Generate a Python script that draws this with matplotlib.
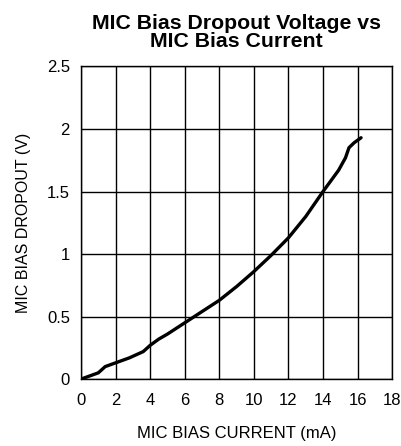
import numpy as np
import matplotlib
matplotlib.use('Agg')
import matplotlib.pyplot as plt

plt.rcParams['font.family'] = ['Liberation Sans', 'DejaVu Sans']

# MIC bias current (mA) vs dropout (V)
current = [0.0, 1.0, 1.4, 2.0, 2.8, 3.6, 4.0, 4.5, 5.0, 6.0, 7.0, 8.0, 9.0,
           10.0, 11.0, 12.0, 13.0, 14.0, 14.9, 15.3, 15.5, 15.8, 16.2]
dropout = [0.0, 0.05, 0.10, 0.13, 0.17, 0.22, 0.27, 0.32, 0.36, 0.45, 0.54,
           0.63, 0.74, 0.86, 0.99, 1.13, 1.30, 1.50, 1.67, 1.77, 1.85, 1.89,
           1.93]

xticks = np.arange(0, 19, 2)
yticks = [0, 0.5, 1, 1.5, 2, 2.5]
ytick_labels = ['0', '0.5', '1', '1.5', '2', '2.5']

fig = plt.figure(figsize=(4.01, 4.46), dpi=100)
ax = fig.add_axes([0.202, 0.150, 0.776, 0.701])

ax.plot(current, dropout, color='black', lw=2.4, solid_capstyle='round',
        solid_joinstyle='round')

ax.set_xlim(0, 18)
ax.set_ylim(0, 2.5)
ax.set_xticks(xticks)
ax.set_yticks(yticks)
ax.set_yticklabels(ytick_labels)
ax.grid(True, color='black', lw=1)
ax.tick_params(length=0, labelsize=12)
ax.tick_params(axis='x', pad=10)
ax.tick_params(axis='y', pad=8)
for s in ax.spines.values():
    s.set_linewidth(1)

ax.set_xlabel('MIC BIAS CURRENT (mA)', fontsize=12, labelpad=13)
ax.set_ylabel('MIC BIAS DROPOUT (V)', fontsize=11.5, labelpad=11)
ax.set_title('MIC Bias Dropout Voltage vs\nMIC Bias Current', fontsize=15.3,
             fontweight='bold', linespacing=0.95, pad=14)

fig.savefig('out.png', dpi=100)
